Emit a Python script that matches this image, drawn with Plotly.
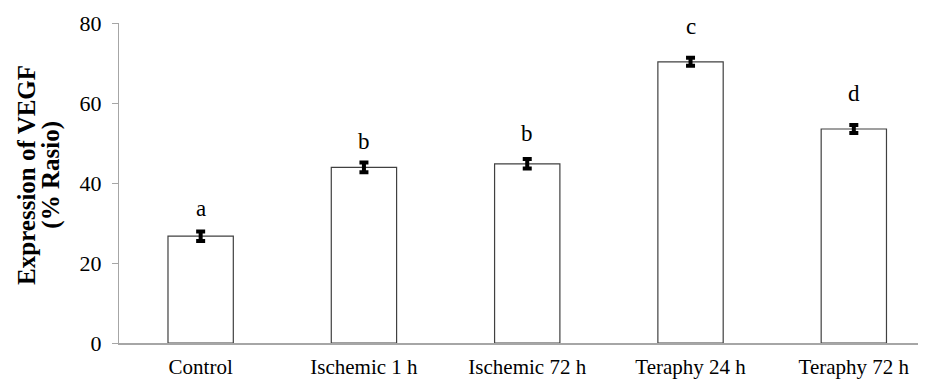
import plotly.graph_objects as go

categories = ["Control", "Ischemic 1 h", "Ischemic 72 h", "Teraphy 24 h", "Teraphy 72 h"]
values = [26.7, 43.9, 44.8, 70.3, 53.5]
errors = [1.2, 1.2, 1.2, 1.0, 1.0]
letters = ["a", "b", "b", "c", "d"]
letter_y = [31.6, 48.3, 50.3, 77.0, 60.3]
y_ticks = [0, 20, 40, 60, 80]
y_title_lines = ["Expression of VEGF", "(% Rasio)"]

FONT = "Liberation Serif, Times New Roman, serif"

fig = go.Figure()
fig.add_trace(go.Bar(
    x=categories, y=values,
    marker=dict(color="white", line=dict(color="#404040", width=1.2)),
    width=0.4,
    error_y=dict(type="data", array=errors, visible=True, color="black",
                 thickness=4, width=4.5),
    cliponaxis=False,
))

for c, t, ly in zip(categories, letters, letter_y):
    fig.add_annotation(x=c, y=ly, text=t, showarrow=False, xref="x", yref="y",
                       yanchor="bottom", yshift=-6,
                       font=dict(family=FONT, size=23, color="black"))

# y-axis title: two lines as separate rotated texts
for line, xp in zip(y_title_lines, [-0.1150, -0.0843]):
    fig.add_annotation(xref="paper", yref="paper", x=xp, y=0.526,
                       text="<b>" + line + "</b>",
                       textangle=-90, showarrow=False, xanchor="center", yanchor="middle",
                       font=dict(family=FONT, size=25, color="black"))

fig.update_layout(
    width=918, height=379,
    margin=dict(l=111, r=0, t=15, b=43.5),
    paper_bgcolor="white", plot_bgcolor="white",
    showlegend=False,
    font=dict(family=FONT, size=21, color="black"),
)
fig.update_xaxes(range=[-0.5, 4.442], showline=True, linecolor="#A6A6A6", linewidth=1.5,
                 ticks="", showgrid=False, zeroline=False,
                 tickfont=dict(family=FONT, size=21, color="black"),
                 ticklabelstandoff=4)
fig.update_yaxes(range=[0, 80], tickvals=y_ticks, showline=True, linecolor="#A6A6A6",
                 linewidth=1.2, ticks="outside", ticklen=6, tickcolor="#A6A6A6",
                 showgrid=False, zeroline=False,
                 tickfont=dict(family=FONT, size=22, color="black"),
                 ticklabelstandoff=6)

fig.write_html("out.html")
